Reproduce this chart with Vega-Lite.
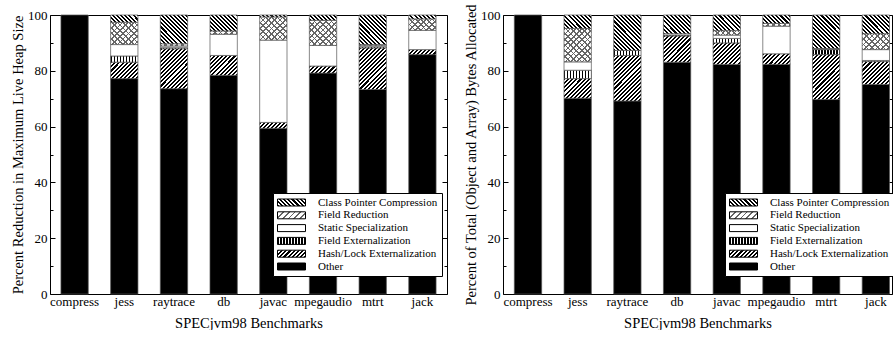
{
 "$schema": "https://vega.github.io/schema/vega-lite/v6.json",
 "padding": {"left": 9, "top": 2, "right": 0, "bottom": 0},
 "spacing": 14,
 "resolve": {"scale": {"fill": "independent"}, "legend": {"fill": "independent"}},
 "params": [
  {"name": "st", "value": [
   {"offset":0,"color":"#000"},{"offset":0.025,"color":"#000"},{"offset":0.025,"color":"#fff"},{"offset":0.05,"color":"#fff"},
   {"offset":0.05,"color":"#000"},{"offset":0.075,"color":"#000"},{"offset":0.075,"color":"#fff"},{"offset":0.1,"color":"#fff"},
   {"offset":0.1,"color":"#000"},{"offset":0.125,"color":"#000"},{"offset":0.125,"color":"#fff"},{"offset":0.15,"color":"#fff"},
   {"offset":0.15,"color":"#000"},{"offset":0.175,"color":"#000"},{"offset":0.175,"color":"#fff"},{"offset":0.2,"color":"#fff"},
   {"offset":0.2,"color":"#000"},{"offset":0.225,"color":"#000"},{"offset":0.225,"color":"#fff"},{"offset":0.25,"color":"#fff"},
   {"offset":0.25,"color":"#000"},{"offset":0.275,"color":"#000"},{"offset":0.275,"color":"#fff"},{"offset":0.3,"color":"#fff"},
   {"offset":0.3,"color":"#000"},{"offset":0.325,"color":"#000"},{"offset":0.325,"color":"#fff"},{"offset":0.35,"color":"#fff"},
   {"offset":0.35,"color":"#000"},{"offset":0.375,"color":"#000"},{"offset":0.375,"color":"#fff"},{"offset":0.4,"color":"#fff"},
   {"offset":0.4,"color":"#000"},{"offset":0.425,"color":"#000"},{"offset":0.425,"color":"#fff"},{"offset":0.45,"color":"#fff"},
   {"offset":0.45,"color":"#000"},{"offset":0.475,"color":"#000"},{"offset":0.475,"color":"#fff"},{"offset":0.5,"color":"#fff"},
   {"offset":0.5,"color":"#000"},{"offset":0.525,"color":"#000"},{"offset":0.525,"color":"#fff"},{"offset":0.55,"color":"#fff"},
   {"offset":0.55,"color":"#000"},{"offset":0.575,"color":"#000"},{"offset":0.575,"color":"#fff"},{"offset":0.6,"color":"#fff"},
   {"offset":0.6,"color":"#000"},{"offset":0.625,"color":"#000"},{"offset":0.625,"color":"#fff"},{"offset":0.65,"color":"#fff"},
   {"offset":0.65,"color":"#000"},{"offset":0.675,"color":"#000"},{"offset":0.675,"color":"#fff"},{"offset":0.7,"color":"#fff"},
   {"offset":0.7,"color":"#000"},{"offset":0.725,"color":"#000"},{"offset":0.725,"color":"#fff"},{"offset":0.75,"color":"#fff"},
   {"offset":0.75,"color":"#000"},{"offset":0.775,"color":"#000"},{"offset":0.775,"color":"#fff"},{"offset":0.8,"color":"#fff"},
   {"offset":0.8,"color":"#000"},{"offset":0.825,"color":"#000"},{"offset":0.825,"color":"#fff"},{"offset":0.85,"color":"#fff"},
   {"offset":0.85,"color":"#000"},{"offset":0.875,"color":"#000"},{"offset":0.875,"color":"#fff"},{"offset":0.9,"color":"#fff"},
   {"offset":0.9,"color":"#000"},{"offset":0.925,"color":"#000"},{"offset":0.925,"color":"#fff"},{"offset":0.95,"color":"#fff"},
   {"offset":0.95,"color":"#000"},{"offset":0.975,"color":"#000"},{"offset":0.975,"color":"#fff"},{"offset":1,"color":"#fff"}
  ]},
  {"name": "sv", "value": [
   {"offset":0,"color":"#000"},{"offset":0.02,"color":"#000"},{"offset":0.02,"color":"#fff"},{"offset":0.05,"color":"#fff"},
   {"offset":0.05,"color":"#000"},{"offset":0.07,"color":"#000"},{"offset":0.07,"color":"#fff"},{"offset":0.1,"color":"#fff"},
   {"offset":0.1,"color":"#000"},{"offset":0.12,"color":"#000"},{"offset":0.12,"color":"#fff"},{"offset":0.15,"color":"#fff"},
   {"offset":0.15,"color":"#000"},{"offset":0.17,"color":"#000"},{"offset":0.17,"color":"#fff"},{"offset":0.2,"color":"#fff"},
   {"offset":0.2,"color":"#000"},{"offset":0.22,"color":"#000"},{"offset":0.22,"color":"#fff"},{"offset":0.25,"color":"#fff"},
   {"offset":0.25,"color":"#000"},{"offset":0.27,"color":"#000"},{"offset":0.27,"color":"#fff"},{"offset":0.3,"color":"#fff"},
   {"offset":0.3,"color":"#000"},{"offset":0.32,"color":"#000"},{"offset":0.32,"color":"#fff"},{"offset":0.35,"color":"#fff"},
   {"offset":0.35,"color":"#000"},{"offset":0.37,"color":"#000"},{"offset":0.37,"color":"#fff"},{"offset":0.4,"color":"#fff"},
   {"offset":0.4,"color":"#000"},{"offset":0.42,"color":"#000"},{"offset":0.42,"color":"#fff"},{"offset":0.45,"color":"#fff"},
   {"offset":0.45,"color":"#000"},{"offset":0.47,"color":"#000"},{"offset":0.47,"color":"#fff"},{"offset":0.5,"color":"#fff"},
   {"offset":0.5,"color":"#000"},{"offset":0.52,"color":"#000"},{"offset":0.52,"color":"#fff"},{"offset":0.55,"color":"#fff"},
   {"offset":0.55,"color":"#000"},{"offset":0.57,"color":"#000"},{"offset":0.57,"color":"#fff"},{"offset":0.6,"color":"#fff"},
   {"offset":0.6,"color":"#000"},{"offset":0.62,"color":"#000"},{"offset":0.62,"color":"#fff"},{"offset":0.65,"color":"#fff"},
   {"offset":0.65,"color":"#000"},{"offset":0.67,"color":"#000"},{"offset":0.67,"color":"#fff"},{"offset":0.7,"color":"#fff"},
   {"offset":0.7,"color":"#000"},{"offset":0.72,"color":"#000"},{"offset":0.72,"color":"#fff"},{"offset":0.75,"color":"#fff"},
   {"offset":0.75,"color":"#000"},{"offset":0.77,"color":"#000"},{"offset":0.77,"color":"#fff"},{"offset":0.8,"color":"#fff"},
   {"offset":0.8,"color":"#000"},{"offset":0.82,"color":"#000"},{"offset":0.82,"color":"#fff"},{"offset":0.85,"color":"#fff"},
   {"offset":0.85,"color":"#000"},{"offset":0.87,"color":"#000"},{"offset":0.87,"color":"#fff"},{"offset":0.9,"color":"#fff"},
   {"offset":0.9,"color":"#000"},{"offset":0.92,"color":"#000"},{"offset":0.92,"color":"#fff"},{"offset":0.95,"color":"#fff"},
   {"offset":0.95,"color":"#000"},{"offset":0.97,"color":"#000"},{"offset":0.97,"color":"#fff"},{"offset":1,"color":"#fff"}
  ]},
  {"name": "sx", "value": [
   {"offset":0,"color":"#666"},{"offset":0.015,"color":"#666"},{"offset":0.015,"color":"#fff"},{"offset":0.05,"color":"#fff"},
   {"offset":0.05,"color":"#666"},{"offset":0.065,"color":"#666"},{"offset":0.065,"color":"#fff"},{"offset":0.1,"color":"#fff"},
   {"offset":0.1,"color":"#666"},{"offset":0.115,"color":"#666"},{"offset":0.115,"color":"#fff"},{"offset":0.15,"color":"#fff"},
   {"offset":0.15,"color":"#666"},{"offset":0.165,"color":"#666"},{"offset":0.165,"color":"#fff"},{"offset":0.2,"color":"#fff"},
   {"offset":0.2,"color":"#666"},{"offset":0.215,"color":"#666"},{"offset":0.215,"color":"#fff"},{"offset":0.25,"color":"#fff"},
   {"offset":0.25,"color":"#666"},{"offset":0.265,"color":"#666"},{"offset":0.265,"color":"#fff"},{"offset":0.3,"color":"#fff"},
   {"offset":0.3,"color":"#666"},{"offset":0.315,"color":"#666"},{"offset":0.315,"color":"#fff"},{"offset":0.35,"color":"#fff"},
   {"offset":0.35,"color":"#666"},{"offset":0.365,"color":"#666"},{"offset":0.365,"color":"#fff"},{"offset":0.4,"color":"#fff"},
   {"offset":0.4,"color":"#666"},{"offset":0.415,"color":"#666"},{"offset":0.415,"color":"#fff"},{"offset":0.45,"color":"#fff"},
   {"offset":0.45,"color":"#666"},{"offset":0.465,"color":"#666"},{"offset":0.465,"color":"#fff"},{"offset":0.5,"color":"#fff"},
   {"offset":0.5,"color":"#666"},{"offset":0.515,"color":"#666"},{"offset":0.515,"color":"#fff"},{"offset":0.55,"color":"#fff"},
   {"offset":0.55,"color":"#666"},{"offset":0.565,"color":"#666"},{"offset":0.565,"color":"#fff"},{"offset":0.6,"color":"#fff"},
   {"offset":0.6,"color":"#666"},{"offset":0.615,"color":"#666"},{"offset":0.615,"color":"#fff"},{"offset":0.65,"color":"#fff"},
   {"offset":0.65,"color":"#666"},{"offset":0.665,"color":"#666"},{"offset":0.665,"color":"#fff"},{"offset":0.7,"color":"#fff"},
   {"offset":0.7,"color":"#666"},{"offset":0.715,"color":"#666"},{"offset":0.715,"color":"#fff"},{"offset":0.75,"color":"#fff"},
   {"offset":0.75,"color":"#666"},{"offset":0.765,"color":"#666"},{"offset":0.765,"color":"#fff"},{"offset":0.8,"color":"#fff"},
   {"offset":0.8,"color":"#666"},{"offset":0.815,"color":"#666"},{"offset":0.815,"color":"#fff"},{"offset":0.85,"color":"#fff"},
   {"offset":0.85,"color":"#666"},{"offset":0.865,"color":"#666"},{"offset":0.865,"color":"#fff"},{"offset":0.9,"color":"#fff"},
   {"offset":0.9,"color":"#666"},{"offset":0.915,"color":"#666"},{"offset":0.915,"color":"#fff"},{"offset":0.95,"color":"#fff"},
   {"offset":0.95,"color":"#666"},{"offset":0.965,"color":"#666"},{"offset":0.965,"color":"#fff"},{"offset":1,"color":"#fff"}
  ]},
  {"name": "sxt", "value": [
   {"offset":0,"color":"#666"},{"offset":0.015,"color":"#666"},{"offset":0.015,"color":"rgba(255,255,255,0)"},{"offset":0.05,"color":"rgba(255,255,255,0)"},
   {"offset":0.05,"color":"#666"},{"offset":0.065,"color":"#666"},{"offset":0.065,"color":"rgba(255,255,255,0)"},{"offset":0.1,"color":"rgba(255,255,255,0)"},
   {"offset":0.1,"color":"#666"},{"offset":0.115,"color":"#666"},{"offset":0.115,"color":"rgba(255,255,255,0)"},{"offset":0.15,"color":"rgba(255,255,255,0)"},
   {"offset":0.15,"color":"#666"},{"offset":0.165,"color":"#666"},{"offset":0.165,"color":"rgba(255,255,255,0)"},{"offset":0.2,"color":"rgba(255,255,255,0)"},
   {"offset":0.2,"color":"#666"},{"offset":0.215,"color":"#666"},{"offset":0.215,"color":"rgba(255,255,255,0)"},{"offset":0.25,"color":"rgba(255,255,255,0)"},
   {"offset":0.25,"color":"#666"},{"offset":0.265,"color":"#666"},{"offset":0.265,"color":"rgba(255,255,255,0)"},{"offset":0.3,"color":"rgba(255,255,255,0)"},
   {"offset":0.3,"color":"#666"},{"offset":0.315,"color":"#666"},{"offset":0.315,"color":"rgba(255,255,255,0)"},{"offset":0.35,"color":"rgba(255,255,255,0)"},
   {"offset":0.35,"color":"#666"},{"offset":0.365,"color":"#666"},{"offset":0.365,"color":"rgba(255,255,255,0)"},{"offset":0.4,"color":"rgba(255,255,255,0)"},
   {"offset":0.4,"color":"#666"},{"offset":0.415,"color":"#666"},{"offset":0.415,"color":"rgba(255,255,255,0)"},{"offset":0.45,"color":"rgba(255,255,255,0)"},
   {"offset":0.45,"color":"#666"},{"offset":0.465,"color":"#666"},{"offset":0.465,"color":"rgba(255,255,255,0)"},{"offset":0.5,"color":"rgba(255,255,255,0)"},
   {"offset":0.5,"color":"#666"},{"offset":0.515,"color":"#666"},{"offset":0.515,"color":"rgba(255,255,255,0)"},{"offset":0.55,"color":"rgba(255,255,255,0)"},
   {"offset":0.55,"color":"#666"},{"offset":0.565,"color":"#666"},{"offset":0.565,"color":"rgba(255,255,255,0)"},{"offset":0.6,"color":"rgba(255,255,255,0)"},
   {"offset":0.6,"color":"#666"},{"offset":0.615,"color":"#666"},{"offset":0.615,"color":"rgba(255,255,255,0)"},{"offset":0.65,"color":"rgba(255,255,255,0)"},
   {"offset":0.65,"color":"#666"},{"offset":0.665,"color":"#666"},{"offset":0.665,"color":"rgba(255,255,255,0)"},{"offset":0.7,"color":"rgba(255,255,255,0)"},
   {"offset":0.7,"color":"#666"},{"offset":0.715,"color":"#666"},{"offset":0.715,"color":"rgba(255,255,255,0)"},{"offset":0.75,"color":"rgba(255,255,255,0)"},
   {"offset":0.75,"color":"#666"},{"offset":0.765,"color":"#666"},{"offset":0.765,"color":"rgba(255,255,255,0)"},{"offset":0.8,"color":"rgba(255,255,255,0)"},
   {"offset":0.8,"color":"#666"},{"offset":0.815,"color":"#666"},{"offset":0.815,"color":"rgba(255,255,255,0)"},{"offset":0.85,"color":"rgba(255,255,255,0)"},
   {"offset":0.85,"color":"#666"},{"offset":0.865,"color":"#666"},{"offset":0.865,"color":"rgba(255,255,255,0)"},{"offset":0.9,"color":"rgba(255,255,255,0)"},
   {"offset":0.9,"color":"#666"},{"offset":0.915,"color":"#666"},{"offset":0.915,"color":"rgba(255,255,255,0)"},{"offset":0.95,"color":"rgba(255,255,255,0)"},
   {"offset":0.95,"color":"#666"},{"offset":0.965,"color":"#666"},{"offset":0.965,"color":"rgba(255,255,255,0)"},{"offset":1,"color":"rgba(255,255,255,0)"}
  ]}
 ],
 "datasets": {"d": [
  {"p":"L","b":"compress","c":"Other","v":100},
  {"p":"L","b":"jess","c":"Other","v":77.2},
  {"p":"L","b":"jess","c":"Hash/Lock Externalization","v":5.9},
  {"p":"L","b":"jess","c":"Field Externalization","v":2.2},
  {"p":"L","b":"jess","c":"Static Specialization","v":4.1},
  {"p":"L","b":"jess","c":"Field Reduction","v":8.0},
  {"p":"L","b":"jess","c":"Class Pointer Compression","v":2.6},
  {"p":"L","b":"raytrace","c":"Other","v":73.6},
  {"p":"L","b":"raytrace","c":"Hash/Lock Externalization","v":14.3},
  {"p":"L","b":"raytrace","c":"Field Externalization","v":0.4},
  {"p":"L","b":"raytrace","c":"Static Specialization","v":0.6},
  {"p":"L","b":"raytrace","c":"Field Reduction","v":0.8},
  {"p":"L","b":"raytrace","c":"Class Pointer Compression","v":10.3},
  {"p":"L","b":"db","c":"Other","v":78.4},
  {"p":"L","b":"db","c":"Hash/Lock Externalization","v":7.1},
  {"p":"L","b":"db","c":"Static Specialization","v":7.6},
  {"p":"L","b":"db","c":"Field Reduction","v":1.2},
  {"p":"L","b":"db","c":"Class Pointer Compression","v":5.7},
  {"p":"L","b":"javac","c":"Other","v":59.4},
  {"p":"L","b":"javac","c":"Hash/Lock Externalization","v":2.1},
  {"p":"L","b":"javac","c":"Static Specialization","v":29.5},
  {"p":"L","b":"javac","c":"Field Reduction","v":8.3},
  {"p":"L","b":"javac","c":"Class Pointer Compression","v":0.7},
  {"p":"L","b":"mpegaudio","c":"Other","v":79.2},
  {"p":"L","b":"mpegaudio","c":"Hash/Lock Externalization","v":2.5},
  {"p":"L","b":"mpegaudio","c":"Static Specialization","v":7.4},
  {"p":"L","b":"mpegaudio","c":"Field Reduction","v":9.0},
  {"p":"L","b":"mpegaudio","c":"Class Pointer Compression","v":1.9},
  {"p":"L","b":"mtrt","c":"Other","v":73.3},
  {"p":"L","b":"mtrt","c":"Hash/Lock Externalization","v":14.9},
  {"p":"L","b":"mtrt","c":"Field Externalization","v":0.4},
  {"p":"L","b":"mtrt","c":"Static Specialization","v":0.4},
  {"p":"L","b":"mtrt","c":"Field Reduction","v":0.4},
  {"p":"L","b":"mtrt","c":"Class Pointer Compression","v":10.6},
  {"p":"L","b":"jack","c":"Other","v":85.8},
  {"p":"L","b":"jack","c":"Hash/Lock Externalization","v":1.8},
  {"p":"L","b":"jack","c":"Static Specialization","v":6.9},
  {"p":"L","b":"jack","c":"Field Reduction","v":4.1},
  {"p":"L","b":"jack","c":"Class Pointer Compression","v":1.4},
  {"p":"R","b":"compress","c":"Other","v":100},
  {"p":"R","b":"jess","c":"Other","v":70.2},
  {"p":"R","b":"jess","c":"Hash/Lock Externalization","v":7.0},
  {"p":"R","b":"jess","c":"Field Externalization","v":3.0},
  {"p":"R","b":"jess","c":"Static Specialization","v":3.0},
  {"p":"R","b":"jess","c":"Field Reduction","v":12.0},
  {"p":"R","b":"jess","c":"Class Pointer Compression","v":4.8},
  {"p":"R","b":"raytrace","c":"Other","v":69.2},
  {"p":"R","b":"raytrace","c":"Hash/Lock Externalization","v":16.3},
  {"p":"R","b":"raytrace","c":"Field Externalization","v":1.8},
  {"p":"R","b":"raytrace","c":"Class Pointer Compression","v":12.7},
  {"p":"R","b":"db","c":"Other","v":83.1},
  {"p":"R","b":"db","c":"Hash/Lock Externalization","v":9.4},
  {"p":"R","b":"db","c":"Field Externalization","v":0.3},
  {"p":"R","b":"db","c":"Static Specialization","v":0.5},
  {"p":"R","b":"db","c":"Class Pointer Compression","v":6.7},
  {"p":"R","b":"javac","c":"Other","v":82.3},
  {"p":"R","b":"javac","c":"Hash/Lock Externalization","v":7.7},
  {"p":"R","b":"javac","c":"Field Externalization","v":1.6},
  {"p":"R","b":"javac","c":"Static Specialization","v":1.2},
  {"p":"R","b":"javac","c":"Field Reduction","v":1.6},
  {"p":"R","b":"javac","c":"Class Pointer Compression","v":5.6},
  {"p":"R","b":"mpegaudio","c":"Other","v":82.3},
  {"p":"R","b":"mpegaudio","c":"Hash/Lock Externalization","v":3.8},
  {"p":"R","b":"mpegaudio","c":"Static Specialization","v":9.9},
  {"p":"R","b":"mpegaudio","c":"Field Reduction","v":1.0},
  {"p":"R","b":"mpegaudio","c":"Class Pointer Compression","v":3.0},
  {"p":"R","b":"mtrt","c":"Other","v":69.7},
  {"p":"R","b":"mtrt","c":"Hash/Lock Externalization","v":16.1},
  {"p":"R","b":"mtrt","c":"Field Externalization","v":1.8},
  {"p":"R","b":"mtrt","c":"Static Specialization","v":0.2},
  {"p":"R","b":"mtrt","c":"Field Reduction","v":0.2},
  {"p":"R","b":"mtrt","c":"Class Pointer Compression","v":12.0},
  {"p":"R","b":"jack","c":"Other","v":75.1},
  {"p":"R","b":"jack","c":"Hash/Lock Externalization","v":8.2},
  {"p":"R","b":"jack","c":"Field Externalization","v":0.4},
  {"p":"R","b":"jack","c":"Static Specialization","v":3.9},
  {"p":"R","b":"jack","c":"Field Reduction","v":5.7},
  {"p":"R","b":"jack","c":"Class Pointer Compression","v":6.7}
 ]},
 "hconcat": [
  {
   "width": 397, "height": 279,
   "data": {"name": "d"},
   "transform": [
    {"filter": "datum.p === 'L'"},
    {"calculate": "indexof(['Other','Hash/Lock Externalization','Field Externalization','Static Specialization','Field Reduction','Class Pointer Compression'], datum.c)", "as": "o"},
    {"stack": "v", "groupby": ["b"], "sort": [{"field": "o", "order": "ascending"}], "as": ["y0", "y1"]}
   ],
   "layer": [
    {
     "mark": {"type": "bar", "stroke": "#555", "strokeWidth": 0.7,
      "fill": {"expr": "datum.c === 'Other' ? '#000' : datum.c === 'Static Specialization' ? '#fff' : datum.c === 'Field Externalization' ? {gradient:'linear',x1:0,y1:0,x2:2.19,y2:0,stops:sv} : datum.c === 'Hash/Lock Externalization' ? {gradient:'linear',x1:0,y1:0,x2:82/(27.4+pow((datum.y1-datum.y0)*2.79,2)/27.4),y2:82*(datum.y1-datum.y0)*2.79/27.4/(27.4+pow((datum.y1-datum.y0)*2.79,2)/27.4),stops:st} : datum.c === 'Class Pointer Compression' ? {gradient:'linear',x1:0,y1:1,x2:82/(27.4+pow((datum.y1-datum.y0)*2.79,2)/27.4),y2:1-82*(datum.y1-datum.y0)*2.79/27.4/(27.4+pow((datum.y1-datum.y0)*2.79,2)/27.4),stops:st} : {gradient:'linear',x1:0,y1:0,x2:113/(27.4+pow((datum.y1-datum.y0)*2.79,2)/27.4),y2:113*(datum.y1-datum.y0)*2.79/27.4/(27.4+pow((datum.y1-datum.y0)*2.79,2)/27.4),stops:sx}"}},
     "encoding": {
      "x": {"field": "b", "type": "nominal", "sort": ["compress","jess","raytrace","db","javac","mpegaudio","mtrt","jack"], "scale": {"paddingInner": 0.45, "paddingOuter": 0.22}, "axis": {"title": "SPECjvm98 Benchmarks", "labelAngle": 0, "ticks": false, "domain": false, "labelPadding": 1, "titlePadding": 8}},
      "y": {"field": "y0", "type": "quantitative", "scale": {"domain": [0, 100], "nice": false}, "axis": {"title": "Percent Reduction in Maximum Live Heap Size", "values": [0,10,20,30,40,50,60,70,80,90,100], "labelExpr": "datum.value % 20 ? '' : datum.label", "tickSize": {"condition": {"test": "datum.value % 20 === 0", "value": -5}, "value": -3}, "labelPadding": 8, "titlePadding": 2}},
      "y2": {"field": "y1"}
     }
    },
    {
     "transform": [{"filter": "datum.c === 'Field Reduction'"}],
     "mark": {"type": "bar", "strokeWidth": 0,
      "fill": {"expr": "{gradient:'linear',x1:0,y1:1,x2:113/(27.4+pow((datum.y1-datum.y0)*2.79,2)/27.4),y2:1-113*(datum.y1-datum.y0)*2.79/27.4/(27.4+pow((datum.y1-datum.y0)*2.79,2)/27.4),stops:sxt}"}},
     "encoding": {
      "x": {"field": "b", "type": "nominal", "sort": ["compress","jess","raytrace","db","javac","mpegaudio","mtrt","jack"], "scale": {"paddingInner": 0.45, "paddingOuter": 0.22}, "axis": {"title": "SPECjvm98 Benchmarks", "labelAngle": 0, "ticks": false, "domain": false, "labelPadding": 1, "titlePadding": 8}},
      "y": {"field": "y0", "type": "quantitative", "axis": null},
      "y2": {"field": "y1"}
     }
    },
    {
     "transform": [{"filter": "false"}],
     "mark": {"type": "bar"},
     "encoding": {
      "x": {"field": "b", "type": "nominal", "sort": ["compress","jess","raytrace","db","javac","mpegaudio","mtrt","jack"], "scale": {"paddingInner": 0.45, "paddingOuter": 0.22}, "axis": {"title": "SPECjvm98 Benchmarks", "labelAngle": 0, "ticks": false, "domain": false, "labelPadding": 1, "titlePadding": 8}},
      "y": {"field": "y0", "type": "quantitative", "axis": {"orient": "right", "title": null, "labels": false, "values": [0,10,20,30,40,50,60,70,80,90,100], "tickSize": {"condition": {"test": "datum.value % 20 === 0", "value": -5}, "value": -3}}},
      "y2": {"field": "y1"},
      "fill": {"field": "c", "type": "nominal",
       "scale": {"domain": ["Class Pointer Compression","Field Reduction","Static Specialization","Field Externalization","Hash/Lock Externalization","Other"],
        "range": [
         {"expr": "{gradient:'linear',x1:0,y1:1,x2:2.756,y2:0.311,stops:st}"},
         {"expr": "{gradient:'linear',x1:0,y1:0,x2:3.8,y2:0.95,stops:sx}"},
         "#fff",
         {"expr": "{gradient:'linear',x1:0,y1:0,x2:2.14,y2:0,stops:sv}"},
         {"expr": "{gradient:'linear',x1:0,y1:0,x2:2.756,y2:0.689,stops:st}"},
         "#000"]},
       "legend": {"orient": "none", "legendX": 223, "legendY": 178}}
     }
    }
   ],
   "resolve": {"axis": {"y": "independent"}}
  },
  {
   "width": 389, "height": 279,
   "data": {"name": "d"},
   "transform": [
    {"filter": "datum.p === 'R'"},
    {"calculate": "indexof(['Other','Hash/Lock Externalization','Field Externalization','Static Specialization','Field Reduction','Class Pointer Compression'], datum.c)", "as": "o"},
    {"stack": "v", "groupby": ["b"], "sort": [{"field": "o", "order": "ascending"}], "as": ["y0", "y1"]}
   ],
   "layer": [
    {
     "mark": {"type": "bar", "stroke": "#555", "strokeWidth": 0.7,
      "fill": {"expr": "datum.c === 'Other' ? '#000' : datum.c === 'Static Specialization' ? '#fff' : datum.c === 'Field Externalization' ? {gradient:'linear',x1:0,y1:0,x2:2.19,y2:0,stops:sv} : datum.c === 'Hash/Lock Externalization' ? {gradient:'linear',x1:0,y1:0,x2:82/(27.4+pow((datum.y1-datum.y0)*2.79,2)/27.4),y2:82*(datum.y1-datum.y0)*2.79/27.4/(27.4+pow((datum.y1-datum.y0)*2.79,2)/27.4),stops:st} : datum.c === 'Class Pointer Compression' ? {gradient:'linear',x1:0,y1:1,x2:82/(27.4+pow((datum.y1-datum.y0)*2.79,2)/27.4),y2:1-82*(datum.y1-datum.y0)*2.79/27.4/(27.4+pow((datum.y1-datum.y0)*2.79,2)/27.4),stops:st} : {gradient:'linear',x1:0,y1:0,x2:113/(27.4+pow((datum.y1-datum.y0)*2.79,2)/27.4),y2:113*(datum.y1-datum.y0)*2.79/27.4/(27.4+pow((datum.y1-datum.y0)*2.79,2)/27.4),stops:sx}"}},
     "encoding": {
      "x": {"field": "b", "type": "nominal", "sort": ["compress","jess","raytrace","db","javac","mpegaudio","mtrt","jack"], "scale": {"paddingInner": 0.45, "paddingOuter": 0.139, "align": 0.82}, "axis": {"title": "SPECjvm98 Benchmarks", "labelAngle": 0, "ticks": false, "domain": false, "labelPadding": 1, "titlePadding": 8}},
      "y": {"field": "y0", "type": "quantitative", "scale": {"domain": [0, 100], "nice": false}, "axis": {"title": "Percent of Total (Object and Array) Bytes Allocated", "values": [0,10,20,30,40,50,60,70,80,90,100], "labelExpr": "datum.value % 20 ? '' : datum.label", "tickSize": {"condition": {"test": "datum.value % 20 === 0", "value": -5}, "value": -3}, "labelPadding": 8, "titlePadding": 2}},
      "y2": {"field": "y1"}
     }
    },
    {
     "transform": [{"filter": "datum.c === 'Field Reduction'"}],
     "mark": {"type": "bar", "strokeWidth": 0,
      "fill": {"expr": "{gradient:'linear',x1:0,y1:1,x2:113/(27.4+pow((datum.y1-datum.y0)*2.79,2)/27.4),y2:1-113*(datum.y1-datum.y0)*2.79/27.4/(27.4+pow((datum.y1-datum.y0)*2.79,2)/27.4),stops:sxt}"}},
     "encoding": {
      "x": {"field": "b", "type": "nominal", "sort": ["compress","jess","raytrace","db","javac","mpegaudio","mtrt","jack"], "scale": {"paddingInner": 0.45, "paddingOuter": 0.139, "align": 0.82}, "axis": {"title": "SPECjvm98 Benchmarks", "labelAngle": 0, "ticks": false, "domain": false, "labelPadding": 1, "titlePadding": 8}},
      "y": {"field": "y0", "type": "quantitative", "axis": null},
      "y2": {"field": "y1"}
     }
    },
    {
     "transform": [{"filter": "false"}],
     "mark": {"type": "bar"},
     "encoding": {
      "x": {"field": "b", "type": "nominal", "sort": ["compress","jess","raytrace","db","javac","mpegaudio","mtrt","jack"], "scale": {"paddingInner": 0.45, "paddingOuter": 0.139, "align": 0.82}, "axis": {"title": "SPECjvm98 Benchmarks", "labelAngle": 0, "ticks": false, "domain": false, "labelPadding": 1, "titlePadding": 8}},
      "y": {"field": "y0", "type": "quantitative", "axis": {"orient": "right", "title": null, "labels": false, "values": [0,10,20,30,40,50,60,70,80,90,100], "tickSize": {"condition": {"test": "datum.value % 20 === 0", "value": -5}, "value": -3}}},
      "y2": {"field": "y1"},
      "fill": {"field": "c", "type": "nominal",
       "scale": {"domain": ["Class Pointer Compression","Field Reduction","Static Specialization","Field Externalization","Hash/Lock Externalization","Other"],
        "range": [
         {"expr": "{gradient:'linear',x1:0,y1:1,x2:2.756,y2:0.311,stops:st}"},
         {"expr": "{gradient:'linear',x1:0,y1:0,x2:3.8,y2:0.95,stops:sx}"},
         "#fff",
         {"expr": "{gradient:'linear',x1:0,y1:0,x2:2.14,y2:0,stops:sv}"},
         {"expr": "{gradient:'linear',x1:0,y1:0,x2:2.756,y2:0.689,stops:st}"},
         "#000"]},
       "legend": {"orient": "none", "legendX": 222, "legendY": 178}}
     }
    }
   ],
   "resolve": {"axis": {"y": "independent"}}
  }
 ],
 "config": {
  "font": "Liberation Serif",
  "view": {"stroke": "#000", "strokeWidth": 1},
  "axis": {"labelFont": "Liberation Serif", "labelFontSize": 13, "labelColor": "#000", "titleFont": "Liberation Serif", "titleFontSize": 14.5, "titleFontWeight": "normal", "titleColor": "#000", "tickColor": "#000", "tickWidth": 1, "grid": false, "domain": false},
  "legend": {"title": null, "symbolType": "M-1,-0.25H1V0.25H-1Z", "symbolSize": 784, "clipHeight": 11, "symbolStrokeColor": "#000", "symbolStrokeWidth": 1, "symbolOpacity": 1, "labelFont": "Liberation Serif", "labelFontSize": 11, "labelColor": "#000", "labelOffset": 12, "labelLimit": 0, "rowPadding": 0.8, "padding": 4, "strokeColor": "#000", "fillColor": "#fff"}
 }
}
